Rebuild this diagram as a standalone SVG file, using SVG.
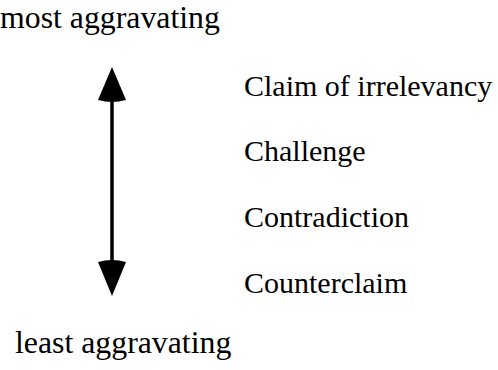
<svg xmlns="http://www.w3.org/2000/svg" width="498" height="370" viewBox="0 0 498 370">
<style>
.t { font-family: 'Liberation Serif', 'Times New Roman', serif; font-size: 30px; fill: #000; }
.big { font-size: 31.8px; }
.shaft { stroke: #000; stroke-width: 3.5; fill: none; }
.head { fill: #000; }
</style>
<rect width="498" height="370" fill="#fff"/>
<g id="most"><text class="t big" x="0" y="28">most aggravating</text></g>
<g id="least"><text class="t big" x="15" y="353">least aggravating</text></g>
<g id="connectors">
<line class="shaft" x1="112" y1="98" x2="112" y2="264"/>
<path class="head" d="M112,67 L126,100 Q112,104 98,100 Z"/>
<path class="head" d="M112,296 L126,262 Q112,258 98,262 Z"/>
</g>
<g id="n1"><text class="t" x="244" y="96">Claim of irrelevancy</text></g>
<g id="n2"><text class="t" x="244" y="161">Challenge</text></g>
<g id="n3"><text class="t" x="244" y="227">Contradiction</text></g>
<g id="n4"><text class="t" x="244" y="293">Counterclaim</text></g>
</svg>
